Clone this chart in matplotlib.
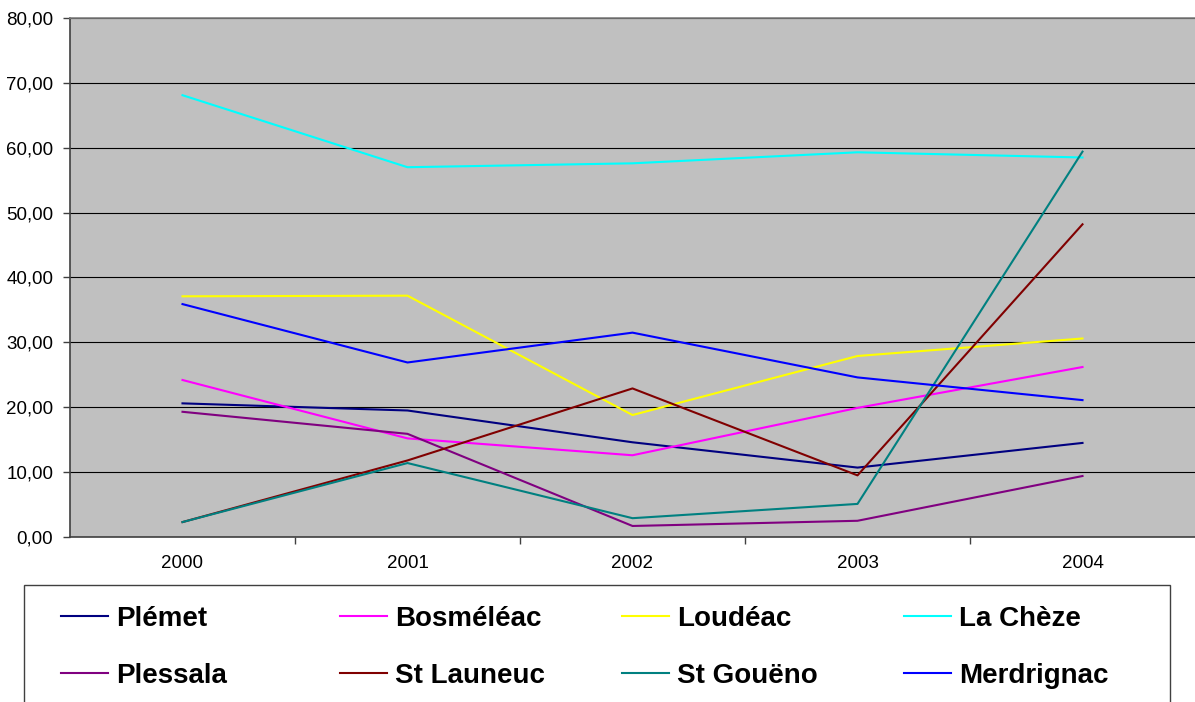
import matplotlib
matplotlib.use("Agg")
import matplotlib.pyplot as plt
from matplotlib.patches import Rectangle
from matplotlib.ticker import FixedLocator, FuncFormatter

years = ["2000", "2001", "2002", "2003", "2004"]
plemet = [20.6, 19.5, 14.6, 10.7, 14.5]
bosmeleac = [24.2, 15.2, 12.6, 19.9, 26.2]
loudeac = [37.1, 37.2, 18.8, 27.9, 30.6]
la_cheze = [68.1, 57.0, 57.6, 59.3, 58.5]
plessala = [19.3, 15.9, 1.7, 2.5, 9.4]
st_launeuc = [2.3, 11.8, 22.9, 9.5, 48.2]
st_goueno = [2.3, 11.4, 2.9, 5.1, 59.4]
merdrignac = [35.9, 26.9, 31.5, 24.6, 21.1]

names = ["Plémet", "Bosméléac", "Loudéac", "La Chèze",
         "Plessala", "St Launeuc", "St Gouëno", "Merdrignac"]
series = [plemet, bosmeleac, loudeac, la_cheze,
          plessala, st_launeuc, st_goueno, merdrignac]
colors = ["#000080", "#FF00FF", "#FFFF00", "#00FFFF",
          "#800080", "#800000", "#008080", "#0000FF"]

plt.rcParams['font.family'] = ['Liberation Sans', 'DejaVu Sans']

W, H = 1195, 702
fig = plt.figure(figsize=(W / 100, H / 100), dpi=100)
ax = fig.add_axes([70 / W, (H - 537) / H, (W - 70) / W, 519 / H])
ax.set_facecolor("#C0C0C0")

x = list(range(len(years)))
handles = []
for vals, c, n in zip(series, colors, names):
    h, = ax.plot(x, vals, color=c, lw=1.5, label=n, zorder=3)
    handles.append(h)

ax.set_xlim(-0.5, len(years) - 0.5)
ax.set_ylim(0, 80)
ax.yaxis.set_major_locator(FixedLocator(range(0, 81, 10)))
ax.yaxis.set_major_formatter(FuncFormatter(lambda v, p: f"{v:.2f}".replace(".", ",")))
ax.grid(axis="y", color="black", lw=0.8, zorder=1)
ax.set_axisbelow(True)

ax.xaxis.set_major_locator(FixedLocator([i + 0.5 for i in range(len(years) - 1)]))
ax.xaxis.set_major_formatter(FuncFormatter(lambda v, p: ""))
ax.xaxis.set_minor_locator(FixedLocator(x))
ax.set_xticklabels(years, minor=True)
ax.tick_params(axis="x", which="major", length=5, width=1, color="#404040", direction="out")
ax.tick_params(axis="x", which="minor", length=0, pad=13, labelsize=13.5)
ax.tick_params(axis="y", length=5, width=1, pad=7, labelsize=13.5, color="#404040")

ax.spines["right"].set_visible(False)
ax.spines["top"].set_color("#808080")
ax.spines["top"].set_linewidth(1.2)
ax.spines["left"].set_color("#404040")
ax.spines["left"].set_linewidth(1.2)
ax.spines["bottom"].set_color("#404040")
ax.spines["bottom"].set_linewidth(1.2)

# legend box (extends past the bottom edge)
fig.patches.append(Rectangle((24 / W, -0.05), 1146 / W, (H - 585) / H + 0.05,
                             transform=fig.transFigure, fill=False,
                             edgecolor="#404040", lw=1.0))

col_x = [61, 340, 622, 904]
order = [(0, 4), (1, 5), (2, 6), (3, 7)]
for cx, (a, b) in zip(col_x, order):
    fig.legend(handles=[handles[a], handles[b]], loc="upper left",
               bbox_to_anchor=(cx / W, (H - 606) / H), frameon=False,
               prop={"weight": "bold", "size": 20}, handlelength=1.69,
               handletextpad=0.29, labelspacing=1.12, borderpad=0,
               borderaxespad=0)

fig.savefig("out.png", dpi=100)
